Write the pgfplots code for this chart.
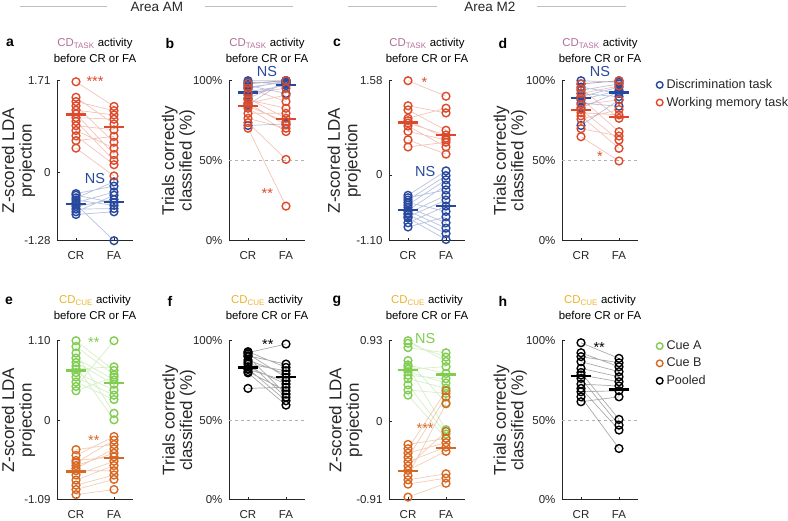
\documentclass[border=0pt]{standalone}
\usepackage{pgfplots}
\pgfplotsset{compat=1.18}
\usepackage{pgfplotstable}
\usepackage{fontspec}
\setmainfont{Liberation Sans}
\definecolor{cblue}{RGB}{40,72,158}
\definecolor{cred}{RGB}{220,74,44}
\definecolor{cgreen}{RGB}{128,205,82}
\definecolor{corange}{RGB}{214,104,36}
\definecolor{cdtask}{RGB}{178,110,152}
\definecolor{cdcue}{RGB}{234,180,44}
\definecolor{hdr}{RGB}{190,190,190}
\definecolor{axc}{RGB}{38,38,38}

\pgfplotsset{
  panel/.style={
    scale only axis, width=76pt,
    xmin=0.5, xmax=2.5, xtick={1,2}, xticklabels={CR,FA},
    axis x line*=bottom, axis y line*=left,
    axis line style={axc, line width=0.8pt},
    tick style={axc, line width=0.8pt},
    tick align=inside, major tick length=3pt,
    clip=false, unbounded coords=jump,
    tick label style={font=\fontsize{11.5}{13}\selectfont, text=axc},
    xticklabel style={yshift=-7pt},
    yticklabel style={xshift=-3pt},
    ylabel style={font=\fontsize{17}{17.5}\selectfont, align=center, anchor=center, text=axc},
    title style={font=\fontsize{11.4}{15.7}\selectfont, align=center, at={(axis description cs:0.5,1)}, anchor=center},
    legend image code/.code={\draw[#1] plot coordinates {(3pt,0pt)};},
    legend cell align=left,
  },
  toprow/.style={height=160pt, title style={yshift=24pt}},
  botrow/.style={height=159pt, title style={yshift=27pt}},
  pline/.style={no markers, line width=0.7pt, opacity=0.33, #1},
  pmark/.style={only marks, mark=o, mark size=3.9pt, line width=1.4pt, #1},
  pmean/.style={no markers, line width=2.3pt, #1},
  half/.style={gray!60, dashed, line width=0.8pt, no markers},
  lgd/.style={legend style={at={(axis description cs:1.2,#1)}, anchor=north west, draw=none, fill=none,
    font=\fontsize{12.6}{14}\selectfont, row sep=4pt, nodes={inner sep=1.5pt, text=axc},
    /tikz/every odd column/.append style={column sep=2pt}}},
}
\newcommand{\ann}[4]{\node[text=#1, font=\fontsize{14.5}{14.5}\selectfont] at (axis cs:#2,#3) {#4};}
\newcommand{\tasktitle}{{\color{cdtask}CD\textsubscript{TASK}} activity\\before CR or FA}
\newcommand{\cuetitle}{{\color{cdcue}CD\textsubscript{CUE}} activity\\before CR or FA}

% ---------- panel a (AM, CD task, z-scored) ----------
\pgfplotstableread[row sep=\\]{x y\\
1 1.69\\ 2 1.23\\ nan nan\\ 1 1.40\\ 2 0.90\\ nan nan\\ 1 1.32\\ 2 1.15\\ nan nan\\
1 1.24\\ 2 0.56\\ nan nan\\ 1 1.16\\ 2 1.07\\ nan nan\\ 1 1.09\\ 2 0.33\\ nan nan\\
1 1.02\\ 2 0.99\\ nan nan\\ 1 0.95\\ 2 0.22\\ nan nan\\ 1 0.87\\ 2 0.79\\ nan nan\\
1 0.78\\ 2 0.45\\ nan nan\\ 1 0.68\\ 2 0.14\\ nan nan\\ 1 0.59\\ 2 0.67\\ nan nan\\
1 0.45\\ 2 -0.07\\}\aR
\pgfplotstableread[row sep=\\]{x y\\
1 -0.40\\ 2 -0.26\\ nan nan\\ 1 -0.43\\ 2 -0.57\\ nan nan\\ 1 -0.48\\ 2 -0.18\\ nan nan\\
1 -0.52\\ 2 -0.62\\ nan nan\\ 1 -0.57\\ 2 -0.37\\ nan nan\\ 1 -0.60\\ 2 -1.28\\ nan nan\\
1 -0.64\\ 2 -0.51\\ nan nan\\ 1 -0.69\\ 2 -0.68\\ nan nan\\ 1 -0.74\\ 2 -0.43\\ nan nan\\
1 -0.79\\ 2 -0.74\\}\aB
% ---------- panel b (AM, CD task, % correct) ----------
\pgfplotstableread[row sep=\\]{x y\\
1 98.4\\ 2 100\\ nan nan\\ 1 95.3\\ 2 87\\ nan nan\\ 1 92.1\\ 2 95.3\\ nan nan\\
1 89\\ 2 76.5\\ nan nan\\ 1 88\\ 2 82.8\\ nan nan\\ 1 86\\ 2 91\\ nan nan\\
1 85.9\\ 2 72.3\\ nan nan\\ 1 84\\ 2 74.4\\ nan nan\\ 1 82.8\\ 2 68.2\\ nan nan\\
1 79.6\\ 2 79.6\\ nan nan\\ 1 76.5\\ 2 70.3\\ nan nan\\ 1 73.8\\ 2 50.8\\ nan nan\\
1 70.3\\ 2 21.6\\}\bR
\pgfplotstableread[row sep=\\]{x y\\
1 100\\ 2 100\\ nan nan\\ 1 99\\ 2 98\\ nan nan\\ 1 98\\ 2 100\\ nan nan\\
1 97\\ 2 92\\ nan nan\\ 1 96\\ 2 99\\ nan nan\\ 1 95\\ 2 100\\ nan nan\\
1 93\\ 2 97\\ nan nan\\ 1 91\\ 2 98\\ nan nan\\ 1 89\\ 2 99\\ nan nan\\
1 85\\ 2 100\\ nan nan\\ 1 72\\ 2 73\\}\bB
% ---------- panel c (M2, CD task, z-scored) ----------
\pgfplotstableread[row sep=\\]{x y\\
1 1.58\\ 2 1.32\\ nan nan\\ 1 1.16\\ 2 1.04\\ nan nan\\ 1 1.09\\ 2 0.75\\ nan nan\\
1 0.95\\ 2 1.12\\ nan nan\\ 1 0.91\\ 2 0.62\\ nan nan\\ 1 0.87\\ 2 0.67\\ nan nan\\
1 0.82\\ 2 0.47\\ nan nan\\ 1 0.73\\ 2 0.59\\ nan nan\\ 1 0.59\\ 2 0.35\\ nan nan\\
1 0.47\\ 2 0.55\\}\cR
\pgfplotstableread[row sep=\\]{x y\\
1 -0.34\\ 2 0.07\\ nan nan\\ 1 -0.38\\ 2 -0.25\\ nan nan\\ 1 -0.42\\ 2 -0.01\\ nan nan\\
1 -0.46\\ 2 -0.61\\ nan nan\\ 1 -0.50\\ 2 -0.08\\ nan nan\\ 1 -0.54\\ 2 -0.80\\ nan nan\\
1 -0.59\\ 2 -0.17\\ nan nan\\ 1 -0.60\\ 2 -0.89\\ nan nan\\ 1 -0.64\\ 2 -0.34\\ nan nan\\
1 -0.66\\ 2 -0.98\\ nan nan\\ 1 -0.70\\ 2 -0.42\\ nan nan\\ 1 -0.72\\ 2 -1.08\\ nan nan\\
1 -0.80\\ 2 -0.52\\ nan nan\\ 1 -0.87\\ 2 -0.70\\}\cB
% ---------- panel d (M2, CD task, % correct) ----------
\pgfplotstableread[row sep=\\]{x y\\
1 98\\ 2 100\\ nan nan\\ 1 95\\ 2 76.5\\ nan nan\\ 1 92\\ 2 96.7\\ nan nan\\
1 89\\ 2 68.1\\ nan nan\\ 1 85\\ 2 88\\ nan nan\\ 1 82\\ 2 62.9\\ nan nan\\
1 80\\ 2 78.6\\ nan nan\\ 1 78\\ 2 57.7\\ nan nan\\ 1 76\\ 2 82\\ nan nan\\
1 70\\ 2 65.4\\ nan nan\\ 1 65\\ 2 49.8\\}\dR
\pgfplotstableread[row sep=\\]{x y\\
1 100\\ 2 99\\ nan nan\\ 1 98\\ 2 100\\ nan nan\\ 1 96\\ 2 92\\ nan nan\\
1 94\\ 2 98\\ nan nan\\ 1 92\\ 2 90\\ nan nan\\ 1 90\\ 2 96\\ nan nan\\
1 88\\ 2 94\\ nan nan\\ 1 86\\ 2 84\\ nan nan\\ 1 83\\ 2 93\\ nan nan\\
1 72\\ 2 88\\}\dB
% ---------- panel e (AM, CD cue, z-scored) ----------
\pgfplotstableread[row sep=\\]{x y\\
1 1.10\\ 2 0.69\\ nan nan\\ 1 1.02\\ 2 0.63\\ nan nan\\ 1 0.93\\ 2 0.10\\ nan nan\\
1 0.86\\ 2 0.56\\ nan nan\\ 1 0.80\\ 2 0.50\\ nan nan\\ 1 0.75\\ 2 0.01\\ nan nan\\
1 0.71\\ 2 0.74\\ nan nan\\ 1 0.66\\ 2 0.42\\ nan nan\\ 1 0.60\\ 2 0.35\\ nan nan\\
1 0.53\\ 2 0.29\\ nan nan\\ 1 0.47\\ 2 1.10\\ nan nan\\ 1 0.41\\ 2 0.60\\}\eG
\pgfplotstableread[row sep=\\]{x y\\
1 -0.40\\ 2 -0.33\\ nan nan\\ 1 -0.48\\ 2 -0.22\\ nan nan\\ 1 -0.55\\ 2 -0.50\\ nan nan\\
1 -0.58\\ 2 -0.27\\ nan nan\\ 1 -0.62\\ 2 -0.45\\ nan nan\\ 1 -0.66\\ 2 -0.39\\ nan nan\\
1 -0.69\\ 2 -0.69\\ nan nan\\ 1 -0.75\\ 2 -0.56\\ nan nan\\ 1 -0.82\\ 2 -0.62\\ nan nan\\
1 -0.89\\ 2 -0.75\\ nan nan\\ 1 -0.95\\ 2 -0.81\\ nan nan\\ 1 -1.02\\ 2 -0.95\\}\eO
% ---------- panel f (AM, CD cue, % correct, pooled) ----------
\pgfplotstableread[row sep=\\]{x y\\
1 93.1\\ 2 83.2\\ nan nan\\ 1 92.5\\ 2 97.9\\ nan nan\\ 1 91.6\\ 2 76.9\\ nan nan\\
1 90.5\\ 2 85.3\\ nan nan\\ 1 89.9\\ 2 66.4\\ nan nan\\ 1 87.8\\ 2 79.0\\ nan nan\\
1 86.5\\ 2 64.4\\ nan nan\\ 1 85.3\\ 2 81.1\\ nan nan\\ 1 83.6\\ 2 72.7\\ nan nan\\
1 82.5\\ 2 62.2\\ nan nan\\ 1 81.9\\ 2 74.8\\ nan nan\\ 1 80.5\\ 2 68.5\\ nan nan\\
1 79.8\\ 2 59.5\\ nan nan\\ 1 70.0\\ 2 70.7\\}\fP
% ---------- panel g (M2, CD cue, z-scored) ----------
\pgfplotstableread[row sep=\\]{x y\\
1 0.93\\ 2 0.69\\ nan nan\\ 1 0.90\\ 2 0.74\\ nan nan\\ 1 0.85\\ 2 0.79\\ nan nan\\
1 0.70\\ 2 0.21\\ nan nan\\ 1 0.65\\ 2 0.55\\ nan nan\\ 1 0.63\\ 2 -0.10\\ nan nan\\
1 0.60\\ 2 0.63\\ nan nan\\ 1 0.57\\ 2 0.44\\ nan nan\\ 1 0.53\\ 2 0.49\\ nan nan\\
1 0.49\\ 2 0.38\\ nan nan\\ 1 0.42\\ 2 -0.15\\ nan nan\\ 1 0.36\\ 2 0.32\\ nan nan\\
1 0.30\\ 2 -0.20\\}\gG
\pgfplotstableread[row sep=\\]{x y\\
1 -0.27\\ 2 -0.20\\ nan nan\\ 1 -0.32\\ 2 0.35\\ nan nan\\ 1 -0.37\\ 2 -0.25\\ nan nan\\
1 -0.42\\ 2 0.28\\ nan nan\\ 1 -0.47\\ 2 -0.30\\ nan nan\\ 1 -0.52\\ 2 -0.12\\ nan nan\\
1 -0.57\\ 2 -0.35\\ nan nan\\ 1 -0.63\\ 2 0.20\\ nan nan\\ 1 -0.68\\ 2 -0.61\\ nan nan\\
1 -0.73\\ 2 -0.66\\ nan nan\\ 1 -0.88\\ 2 -0.72\\}\gO
% ---------- panel h (M2, CD cue, % correct, pooled) ----------
\pgfplotstableread[row sep=\\]{x y\\
1 98.7\\ 2 88.9\\ nan nan\\ 1 92.4\\ 2 83.6\\ nan nan\\ 1 90\\ 2 86.1\\ nan nan\\
1 86.8\\ 2 80.5\\ nan nan\\ 1 82.6\\ 2 77.3\\ nan nan\\ 1 80\\ 2 50.5\\ nan nan\\
1 78.4\\ 2 74.2\\ nan nan\\ 1 76.3\\ 2 46.9\\ nan nan\\ 1 72.7\\ 2 71.5\\ nan nan\\
1 70\\ 2 43.8\\ nan nan\\ 1 67.9\\ 2 68.5\\ nan nan\\ 1 64.7\\ 2 32.2\\ nan nan\\
1 61.6\\ 2 64.7\\}\hP

\begin{document}
\begin{tikzpicture}
\useasboundingbox (0pt,0pt) rectangle (788pt,520pt);

% header
\draw[hdr, line width=0.8pt] (20pt,514pt) -- (107pt,514pt);
\draw[hdr, line width=0.8pt] (205pt,514pt) -- (293pt,514pt);
\draw[hdr, line width=0.8pt] (348pt,514pt) -- (437pt,514pt);
\draw[hdr, line width=0.8pt] (537pt,514pt) -- (626pt,514pt);
\node[font=\fontsize{13.5}{13.5}\selectfont, text=axc] at (157pt,513pt) {Area AM};
\node[font=\fontsize{13.5}{13.5}\selectfont, text=axc] at (490pt,513pt) {Area M2};

% panel letters
\foreach \l/\px/\py in {a/10/477, b/170/477, c/337/477, d/503/477, e/9/219, f/170/219, g/337/219, h/503/219}
  \node[font=\fontsize{14}{14}\selectfont\bfseries] at (\px pt,\py pt) {\l};

% ---- a ----
\begin{axis}[panel, toprow, at={(57pt,279.3pt)}, anchor=south west,
  ymin=-1.28, ymax=1.71, ytick={-1.28,0,1.71}, yticklabels={-1.28,0,1.71},
  ylabel={Z-scored LDA\\projection}, ylabel style={at={(axis description cs:-0.507,0.5)}},
  title={\tasktitle}]
\addplot[pline=cblue] table {\aB};
\addplot[pline=cred] table {\aR};
\addplot[pmark=cblue] table {\aB};
\addplot[pmark=cred] table {\aR};
\addplot[pmean=cred] coordinates {(0.73,1.08) (1.27,1.08)};
\addplot[pmean=cred] coordinates {(1.73,0.85) (2.27,0.85)};
\addplot[pmean=cblue] coordinates {(0.73,-0.59) (1.27,-0.59)};
\addplot[pmean=cblue] coordinates {(1.73,-0.56) (2.27,-0.56)};
\ann{cred}{1.5}{1.70}{***}
\ann{cblue}{1.5}{-0.12}{NS}
\end{axis}

% ---- b ----
\begin{axis}[panel, toprow, at={(229pt,279.3pt)}, anchor=south west,
  ymin=0, ymax=100, ytick={0,50,100}, yticklabels={0\%,50\%,100\%},
  ylabel={Trials correctly\\classified (\%)}, ylabel style={at={(axis description cs:-0.664,0.5)}},
  title={\tasktitle}]
\addplot[half] coordinates {(0.5,50) (2.5,50)};
\addplot[pline=cblue] table {\bB};
\addplot[pline=cred] table {\bR};
\addplot[pmark=cblue] table {\bB};
\addplot[pmark=cred] table {\bR};
\addplot[pmean=cred] coordinates {(0.73,84.4) (1.27,84.4)};
\addplot[pmean=cred] coordinates {(1.73,76) (2.27,76)};
\addplot[pmean=cblue] coordinates {(0.73,92.7) (1.27,92.7)};
\addplot[pmean=cblue] coordinates {(1.73,97.3) (2.27,97.3)};
\ann{cred}{1.51}{29.4}{**}
\ann{cblue}{1.5}{105.5}{NS}
\end{axis}

% ---- c ----
\begin{axis}[panel, toprow, at={(389pt,279.3pt)}, anchor=south west,
  ymin=-1.10, ymax=1.58, ytick={-1.10,0,1.58}, yticklabels={-1.10,0,1.58},
  ylabel={Z-scored LDA\\projection}, ylabel style={at={(axis description cs:-0.59,0.5)}},
  title={\tasktitle}]
\addplot[pline=cblue] table {\cB};
\addplot[pline=cred] table {\cR};
\addplot[pmark=cblue] table {\cB};
\addplot[pmark=cred] table {\cR};
\addplot[pmean=cred] coordinates {(0.73,0.88) (1.27,0.88)};
\addplot[pmean=cred] coordinates {(1.73,0.67) (2.27,0.67)};
\addplot[pmean=cblue] coordinates {(0.73,-0.59) (1.27,-0.59)};
\addplot[pmean=cblue] coordinates {(1.73,-0.52) (2.27,-0.52)};
\ann{cred}{1.43}{1.55}{*}
\ann{cblue}{1.45}{0.06}{NS}
\end{axis}

% ---- d ----
\begin{axis}[panel, toprow, at={(562pt,279.3pt)}, anchor=south west,
  ymin=0, ymax=100, ytick={0,50,100}, yticklabels={0\%,50\%,100\%},
  ylabel={Trials correctly\\classified (\%)}, ylabel style={at={(axis description cs:-0.68,0.5)}},
  title={\tasktitle}, lgd=1.03]
\addlegendimage{pmark=cblue, mark size=3.3pt}
\addlegendentry{Discrimination task}
\addlegendimage{pmark=cred, mark size=3.3pt}
\addlegendentry{Working memory task}
\addplot[half, forget plot] coordinates {(0.5,50) (2.5,50)};
\addplot[pline=cblue, forget plot] table {\dB};
\addplot[pline=cred, forget plot] table {\dR};
\addplot[pmark=cblue, forget plot] table {\dB};
\addplot[pmark=cred, forget plot] table {\dR};
\addplot[pmean=cred, forget plot] coordinates {(0.73,81.7) (1.27,81.7)};
\addplot[pmean=cred, forget plot] coordinates {(1.73,77.1) (2.27,77.1)};
\addplot[pmean=cblue, forget plot] coordinates {(0.73,89.4) (1.27,89.4)};
\addplot[pmean=cblue, forget plot] coordinates {(1.73,92.7) (2.27,92.7)};
\ann{cred}{1.5}{52.7}{*}
\ann{cblue}{1.5}{105.6}{NS}
\end{axis}

% ---- e ----
\begin{axis}[panel, botrow, at={(57pt,20.3pt)}, anchor=south west,
  ymin=-1.09, ymax=1.10, ytick={-1.09,0,1.10}, yticklabels={-1.09,0,1.10},
  ylabel={Z-scored LDA\\projection}, ylabel style={at={(axis description cs:-0.507,0.5)}},
  title={\cuetitle}]
\addplot[pline=cgreen] table {\eG};
\addplot[pline=corange] table {\eO};
\addplot[pmark=cgreen] table {\eG};
\addplot[pmark=corange] table {\eO};
\addplot[pmean=cgreen] coordinates {(0.73,0.69) (1.27,0.69)};
\addplot[pmean=cgreen] coordinates {(1.73,0.52) (2.27,0.52)};
\addplot[pmean=corange] coordinates {(0.73,-0.70) (1.27,-0.70)};
\addplot[pmean=corange] coordinates {(1.73,-0.52) (2.27,-0.52)};
\ann{cgreen}{1.47}{1.07}{**}
\ann{corange}{1.47}{-0.27}{**}
\end{axis}

% ---- f ----
\begin{axis}[panel, botrow, at={(229pt,20.3pt)}, anchor=south west,
  ymin=0, ymax=100, ytick={0,50,100}, yticklabels={0\%,50\%,100\%},
  ylabel={Trials correctly\\classified (\%)}, ylabel style={at={(axis description cs:-0.658,0.5)}},
  title={\cuetitle}]
\addplot[half] coordinates {(0.5,50) (2.5,50)};
\addplot[pline=black] table {\fP};
\addplot[pmark=black] table {\fP};
\addplot[pmean=black] coordinates {(0.73,83.2) (1.27,83.2)};
\addplot[pmean=black] coordinates {(1.73,77.3) (2.27,77.3)};
\ann{black}{1.52}{97.7}{**}
\end{axis}

% ---- g ----
\begin{axis}[panel, botrow, at={(389pt,20.3pt)}, anchor=south west,
  ymin=-0.91, ymax=0.93, ytick={-0.91,0,0.93}, yticklabels={-0.91,0,0.93},
  ylabel={Z-scored LDA\\projection}, ylabel style={at={(axis description cs:-0.57,0.5)}},
  title={\cuetitle}]
\addplot[pline=cgreen] table {\gG};
\addplot[pline=corange] table {\gO};
\addplot[pmark=cgreen] table {\gG};
\addplot[pmark=corange] table {\gO};
\addplot[pmean=cgreen] coordinates {(0.73,0.59) (1.27,0.59)};
\addplot[pmean=cgreen] coordinates {(1.73,0.54) (2.27,0.54)};
\addplot[pmean=corange] coordinates {(0.73,-0.58) (1.27,-0.58)};
\addplot[pmean=corange] coordinates {(1.73,-0.31) (2.27,-0.31)};
\ann{cgreen}{1.45}{0.96}{NS}
\ann{corange}{1.45}{-0.085}{***}
\end{axis}

% ---- h ----
\begin{axis}[panel, botrow, at={(562pt,20.3pt)}, anchor=south west,
  ymin=0, ymax=100, ytick={0,50,100}, yticklabels={0\%,50\%,100\%},
  ylabel={Trials correctly\\classified (\%)}, ylabel style={at={(axis description cs:-0.68,0.5)}},
  title={\cuetitle}, lgd=1.022]
\addlegendimage{pmark=cgreen, mark size=3.3pt}
\addlegendentry{Cue A}
\addlegendimage{pmark=corange, mark size=3.3pt}
\addlegendentry{Cue B}
\addlegendimage{pmark=black, mark size=3.3pt}
\addlegendentry{Pooled}
\addplot[half, forget plot] coordinates {(0.5,50) (2.5,50)};
\addplot[pline=black, forget plot] table {\hP};
\addplot[pmark=black, forget plot] table {\hP};
\addplot[pmean=black, forget plot] coordinates {(0.73,77.8) (1.27,77.8)};
\addplot[pmean=black, forget plot] coordinates {(1.73,69.4) (2.27,69.4)};
\ann{black}{1.48}{95.8}{**}
\end{axis}
\end{tikzpicture}
\end{document}
